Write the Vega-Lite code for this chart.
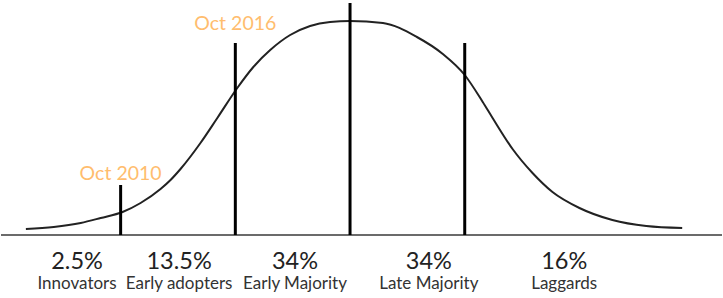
{
  "$schema": "https://vega.github.io/schema/vega-lite/v6.json",
  "width": 723,
  "height": 298,
  "autosize": {"type": "fit", "contains": "padding"},
  "padding": 0,
  "background": "white",
  "config": {"view": {"stroke": null}},
  "datasets": {
    "curve": [
      {"sd": -2.826, "h": 6}, {"sd": -2.583, "h": 8}, {"sd": -2.348, "h": 12},
      {"sd": -2.174, "h": 17}, {"sd": -1.983, "h": 23}, {"sd": -1.826, "h": 32},
      {"sd": -1.652, "h": 46}, {"sd": -1.565, "h": 55}, {"sd": -1.478, "h": 66},
      {"sd": -1.304, "h": 92},
      {"sd": -1.157, "h": 117}, {"sd": -0.983, "h": 147}, {"sd": -0.843, "h": 168},
      {"sd": -0.696, "h": 185}, {"sd": -0.522, "h": 200}, {"sd": -0.348, "h": 209},
      {"sd": -0.174, "h": 213}, {"sd": 0, "h": 214}, {"sd": 0.287, "h": 212},
      {"sd": 0.583, "h": 198}, {"sd": 0.809, "h": 181}, {"sd": 1.0, "h": 160},
      {"sd": 1.157, "h": 133}, {"sd": 1.243, "h": 117}, {"sd": 1.417, "h": 86},
      {"sd": 1.591, "h": 62}, {"sd": 1.765, "h": 43}, {"sd": 2.0, "h": 27},
      {"sd": 2.287, "h": 15}, {"sd": 2.583, "h": 9}, {"sd": 2.896, "h": 7}
    ],
    "markers": [
      {"sd": -2, "top": 50, "base": 0, "label": "Oct 2010", "ly": 61},
      {"sd": -1, "top": 192, "base": 0, "label": "Oct 2016", "ly": 211},
      {"sd": 0, "top": 232, "base": 0, "label": "", "ly": 0},
      {"sd": 1, "top": 192, "base": 0, "label": "", "ly": 0}
    ],
    "segments": [
      {"mid": -2.38, "pct": "2.5%", "name": "Innovators", "base": 0},
      {"mid": -1.49, "pct": "13.5%", "name": "Early adopters", "base": 0},
      {"mid": -0.48, "pct": "34%", "name": "Early Majority", "base": 0},
      {"mid": 0.687, "pct": "34%", "name": "Late Majority", "base": 0},
      {"mid": 1.867, "pct": "16%", "name": "Laggards", "base": 0}
    ]
  },
  "layer": [
    {
      "data": {"values": [{"a": -3.043, "b": 3.243, "y": 0}]},
      "mark": {"type": "rule", "color": "#6b6b6b", "strokeWidth": 2},
      "encoding": {
        "x": {"field": "a", "type": "quantitative", "scale": {"domain": [-3.043, 3.243], "nice": false, "zero": false}, "axis": null},
        "x2": {"field": "b"},
        "y": {"field": "y", "type": "quantitative", "scale": {"domain": [-63, 235], "nice": false, "zero": false}, "axis": null}
      }
    },
    {
      "data": {"name": "curve"},
      "mark": {"type": "line", "interpolate": "monotone", "color": "#222222", "strokeWidth": 2},
      "encoding": {
        "x": {"field": "sd", "type": "quantitative", "scale": {"domain": [-3.043, 3.243], "nice": false, "zero": false}, "axis": null},
        "y": {"field": "h", "type": "quantitative", "scale": {"domain": [-63, 235], "nice": false, "zero": false}, "axis": null}
      }
    },
    {
      "data": {"name": "markers"},
      "mark": {"type": "rule", "color": "#000000", "strokeWidth": 3},
      "encoding": {
        "x": {"field": "sd", "type": "quantitative", "scale": {"domain": [-3.043, 3.243], "nice": false, "zero": false}, "axis": null},
        "y": {"field": "base", "type": "quantitative", "scale": {"domain": [-63, 235], "nice": false, "zero": false}, "axis": null},
        "y2": {"field": "top"}
      }
    },
    {
      "data": {"name": "markers"},
      "mark": {"type": "text", "color": "#ffbd6e", "font": "Lato", "fontSize": 19.5, "baseline": "middle", "align": "center"},
      "encoding": {
        "x": {"field": "sd", "type": "quantitative", "scale": {"domain": [-3.043, 3.243], "nice": false, "zero": false}, "axis": null},
        "y": {"field": "ly", "type": "quantitative", "scale": {"domain": [-63, 235], "nice": false, "zero": false}, "axis": null},
        "text": {"field": "label"}
      }
    },
    {
      "data": {"name": "segments"},
      "mark": {"type": "text", "color": "#222222", "font": "Lato", "fontSize": 23.5, "baseline": "middle", "align": "center", "dy": 27},
      "encoding": {
        "x": {"field": "mid", "type": "quantitative", "scale": {"domain": [-3.043, 3.243], "nice": false, "zero": false}, "axis": null},
        "y": {"field": "base", "type": "quantitative", "scale": {"domain": [-63, 235], "nice": false, "zero": false}, "axis": null},
        "text": {"field": "pct"}
      }
    },
    {
      "data": {"name": "segments"},
      "mark": {"type": "text", "color": "#333333", "font": "Lato", "fontSize": 17, "baseline": "middle", "align": "center", "dy": 49},
      "encoding": {
        "x": {"field": "mid", "type": "quantitative", "scale": {"domain": [-3.043, 3.243], "nice": false, "zero": false}, "axis": null},
        "y": {"field": "base", "type": "quantitative", "scale": {"domain": [-63, 235], "nice": false, "zero": false}, "axis": null},
        "text": {"field": "name"}
      }
    }
  ]
}
